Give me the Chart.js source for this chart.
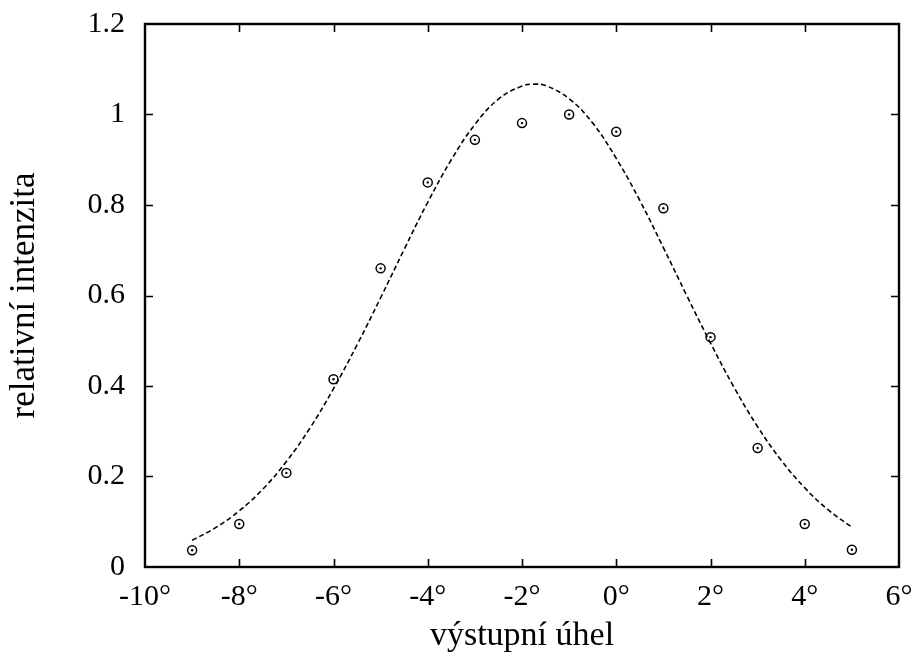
<!DOCTYPE html>
<html>
<head>
<meta charset="utf-8">
<script src="https://cdn.jsdelivr.net/npm/chart.js@4/dist/chart.umd.min.js"></script>
<style>
html,body{margin:0;padding:0;background:#fff;}
#wrap{width:915px;height:656px;position:relative;}
</style>
</head>
<body>
<div id="wrap"><canvas id="c" width="915" height="656"></canvas></div>
<script>
// measured points
const angles = [-9, -8, -7, -6, -5, -4, -3, -2, -1, 0, 1, 2, 3, 4, 5];
const intensity = [0.037, 0.095, 0.208, 0.415, 0.660, 0.850, 0.944, 0.981, 1.000, 0.962, 0.793, 0.508, 0.263, 0.095, 0.038];
// dashed fit curve
const curveX = [-9, -8.5, -8, -7.5, -7, -6.5, -6, -5.5, -5, -4.5, -4, -3.5, -3, -2.5, -2, -1.75, -1.5, -1, -0.5, 0, 0.5, 1, 1.5, 2, 2.5, 3, 3.5, 4, 4.5, 5];
const curveY = [0.059, 0.087, 0.124, 0.172, 0.233, 0.307, 0.394, 0.491, 0.595, 0.702, 0.806, 0.900, 0.978, 1.034, 1.063, 1.067, 1.064, 1.035, 0.981, 0.903, 0.810, 0.706, 0.599, 0.495, 0.397, 0.310, 0.236, 0.175, 0.126, 0.088];
const xTicks = [-10, -8, -6, -4, -2, 0, 2, 4, 6];
const yTicks = [0, 0.2, 0.4, 0.6, 0.8, 1.0, 1.2];

const FONT = "'Liberation Serif', serif";

const framePlugin = {
  id: 'frame',
  afterDatasetsDraw(chart) {
    const {ctx, chartArea: a, scales} = chart;
    ctx.save();
    ctx.strokeStyle = '#000';
    ctx.lineWidth = 1.6;
    const L = 8;
    ctx.beginPath();
    scales.x.ticks.forEach(t => {
      const px = Math.round(scales.x.getPixelForValue(t.value)) + 0.5;
      if (px <= a.left + 2 || px >= a.right - 2) return;
      ctx.moveTo(px, a.bottom); ctx.lineTo(px, a.bottom - L);
      ctx.moveTo(px, a.top); ctx.lineTo(px, a.top + L);
    });
    scales.y.ticks.forEach(t => {
      const py = Math.round(scales.y.getPixelForValue(t.value)) + 0.5;
      if (py <= a.top + 2 || py >= a.bottom - 2) return;
      ctx.moveTo(a.left, py); ctx.lineTo(a.left + L, py);
      ctx.moveTo(a.right, py); ctx.lineTo(a.right - L, py);
    });
    ctx.stroke();
    ctx.lineWidth = 2.4;
    ctx.strokeRect(a.left, a.top, a.right - a.left, a.bottom - a.top);
    ctx.restore();
  }
};

function zeroPad(s) { s.paddingTop = 0; s.paddingBottom = 0; s.paddingLeft = 0; s.paddingRight = 0; }

const pts = angles.map((x, i) => ({x, y: intensity[i]}));

new Chart(document.getElementById('c'), {
  type: 'scatter',
  data: {
    datasets: [
      {
        label: 'fit',
        data: curveX.map((x, i) => ({x, y: curveY[i]})),
        showLine: true,
        borderColor: '#000',
        borderWidth: 1.6,
        borderDash: [5, 3],
        pointRadius: 0,
        tension: 0.4,
        fill: false
      },
      {
        label: 'data',
        data: pts,
        pointStyle: 'circle',
        pointRadius: 4.5,
        borderColor: '#000',
        backgroundColor: 'rgba(0,0,0,0)',
        borderWidth: 1.5,
        showLine: false
      },
      {
        label: 'data centre',
        data: pts,
        pointStyle: 'circle',
        pointRadius: 1.2,
        borderWidth: 0,
        backgroundColor: '#000',
        showLine: false
      }
    ]
  },
  options: {
    responsive: false,
    animation: false,
    devicePixelRatio: 1,
    layout: { padding: { left: 0, right: 16, top: 24, bottom: 0 } },
    plugins: { legend: { display: false }, tooltip: { enabled: false } },
    scales: {
      x: {
        type: 'linear', min: -10, max: 6,
        afterBuildTicks: s => { s.ticks = xTicks.map(v => ({value: v})); },
        afterFit: s => { s.height = 89; zeroPad(s); },
        grid: { display: false, drawTicks: false },
        border: { display: false },
        ticks: {
          color: '#000', padding: 12,
          font: { family: FONT, size: 30 },
          callback: v => v + '°',
          maxRotation: 0, autoSkip: false
        },
        title: {
          display: true, text: 'výstupní úhel', color: '#000',
          font: { family: FONT, size: 34 }, padding: { top: 0, bottom: 0 }
        }
      },
      y: {
        type: 'linear', min: 0, max: 1.2,
        afterBuildTicks: s => { s.ticks = yTicks.map(v => ({value: v})); },
        afterFit: s => { s.width = 145; zeroPad(s); },
        grid: { display: false, drawTicks: false },
        border: { display: false },
        ticks: {
          color: '#000', padding: 20,
          font: { family: FONT, size: 30 },
          callback: v => String(Number(v.toFixed(1))),
          autoSkip: false
        },
        title: {
          display: true, text: 'relativní intenzita', color: '#000',
          font: { family: FONT, size: 35 }, padding: { top: 4, bottom: 0 }
        }
      }
    }
  },
  plugins: [framePlugin]
});
</script>
</body>
</html>
